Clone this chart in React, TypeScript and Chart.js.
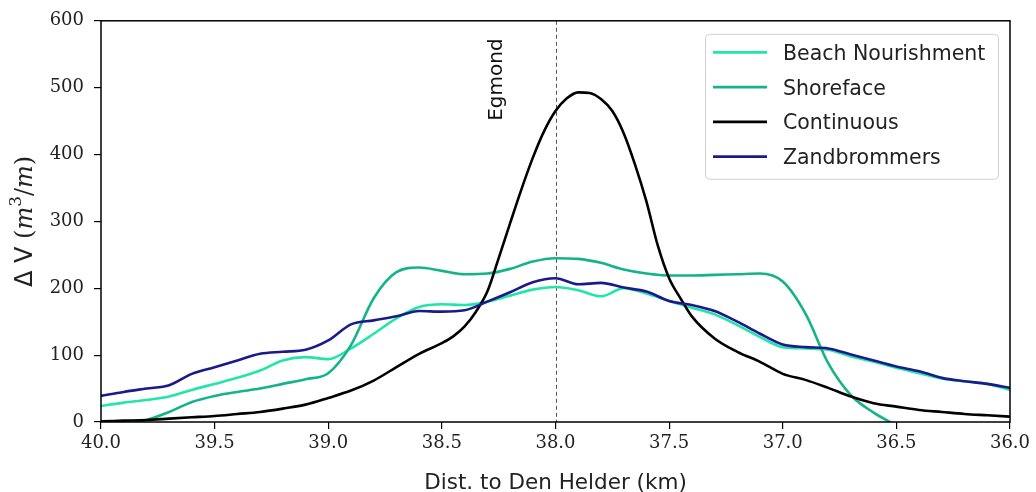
import { useEffect, useRef } from 'react';
import { Chart, registerables } from 'chart.js';

Chart.register(...registerables);

// Distance to Den Helder (km), shared grid
const distanceKm = [
  40.0, 39.9, 39.8, 39.7, 39.6, 39.5, 39.4, 39.3, 39.2, 39.1,
  39.0, 38.9, 38.8, 38.7, 38.6, 38.5, 38.4, 38.3, 38.2, 38.1,
  38.0, 37.9, 37.8, 37.7, 37.6, 37.5, 37.4, 37.3, 37.2, 37.1,
  37.0, 36.9, 36.8, 36.7, 36.6, 36.5, 36.4, 36.3, 36.2, 36.1, 36.0,
];

const beachNourishment = [
  24, 29, 33, 38, 48, 57, 66, 77, 92, 97,
  94, 110, 132, 155, 172, 176, 175, 180, 189, 198,
  202, 197, 188, 200, 192, 181, 171, 161, 145, 127,
  112, 110, 108, 98, 90, 81, 73, 65, 61, 57, 48,
];

const shoreface = [
  -12, -5, 3, 15, 30, 39, 45, 50, 57, 64,
  73, 115, 185, 224, 231, 226, 221, 222, 229, 240,
  245, 244, 238, 228, 222, 219, 219, 220, 221, 222,
  210, 162, 88, 40, 14, -5, null, null, null, null, null,
];

const zandbrommers = [
  39, 45, 50, 55, 72, 82, 92, 102, 105, 108,
  122, 146, 152, 158, 166, 165, 167, 180, 194, 209,
  215, 206, 208, 201, 195, 181, 175, 166, 150, 132,
  116, 112, 110, 101, 92, 83, 76, 66, 61, 57, 51,
];

// Continuous series, sampled finer around the peak
const continuousKm = [
  40.0, 39.9, 39.8, 39.7, 39.6, 39.5, 39.4, 39.3, 39.2, 39.1,
  39.0, 38.9, 38.8, 38.7, 38.6, 38.5, 38.45, 38.4, 38.35, 38.3,
  38.25, 38.2, 38.15, 38.1, 38.05, 38.0, 37.95, 37.9, 37.85, 37.8,
  37.75, 37.7, 37.65, 37.6, 37.55, 37.5, 37.45, 37.4, 37.3, 37.2,
  37.1, 37.0, 36.9, 36.8, 36.7, 36.6, 36.5, 36.4, 36.3, 36.2, 36.1, 36.0,
];

const continuous = [
  1, 2, 3, 5, 7, 9, 12, 15, 20, 26,
  36, 47, 62, 82, 102, 118, 128, 143, 165, 195,
  245, 297, 348, 395, 435, 465, 484, 493, 492, 483,
  465, 432, 385, 330, 264, 215, 185, 158, 125, 105,
  90, 72, 63, 51, 38, 28, 23, 18, 15, 12, 10, 8,
];

const xTicksMin = 36;
const xTicksMax = 40;
const yTicksMin = 0;
const yTicksMax = 600;

const seriesNames = ['Beach Nourishment', 'Shoreface', 'Continuous', 'Zandbrommers'];
const seriesColors = ['#22e6a8', '#14b38c', '#000000', '#1a1a8c'];
const markerKm = 38.0;
const markerLabel = 'Egmond';
const markerLabelKm = 38.26;
const xTitle = 'Dist. to Den Helder (km)';

const SANS = '"DejaVu Sans", sans-serif';
const SERIF = '"DejaVu Serif", serif';

function toPoints(xs: number[], ys: (number | null)[]) {
  return xs.map((x, i) => ({ x, y: ys[i] }));
}

const decorPlugin = {
  id: 'decor',
  beforeDatasetsDraw(chart: any) {
    const { ctx, chartArea, scales } = chart;
    const px = scales.x.getPixelForValue(markerKm);
    ctx.save();
    ctx.strokeStyle = '#555';
    ctx.lineWidth = 1;
    ctx.setLineDash([4, 3]);
    ctx.beginPath();
    ctx.moveTo(Math.round(px) + 0.5, chartArea.top);
    ctx.lineTo(Math.round(px) + 0.5, chartArea.bottom);
    ctx.stroke();
    ctx.restore();

    // Egmond label
    const lx = scales.x.getPixelForValue(markerLabelKm);
    ctx.save();
    ctx.translate(lx + 6, chartArea.top + 100);
    ctx.rotate(-Math.PI / 2);
    ctx.fillStyle = '#111';
    ctx.font = `20px ${SANS}`;
    ctx.textAlign = 'left';
    ctx.textBaseline = 'alphabetic';
    ctx.fillText(markerLabel, 0, 0);
    ctx.restore();
  },
  afterDatasetsDraw(chart: any) {
    const { ctx, chartArea } = chart;
    ctx.save();
    ctx.strokeStyle = '#000';
    ctx.lineWidth = 1.5;
    ctx.strokeRect(chartArea.left, chartArea.top, chartArea.right - chartArea.left, chartArea.bottom - chartArea.top);
    ctx.restore();
  },
  afterDraw(chart: any) {
    const { ctx, chartArea } = chart;
    // Legend
    const bx = chartArea.right - 305;
    const by = chartArea.top + 13;
    ctx.save();
    ctx.fillStyle = 'rgba(255,255,255,0.85)';
    ctx.strokeStyle = '#d0d0d0';
    ctx.lineWidth = 1;
    ctx.beginPath();
    (ctx as any).roundRect(bx + 0.5, by + 0.5, 293, 145, 4);
    ctx.fill();
    ctx.stroke();
    chart.data.datasets.forEach((ds: any, i: number) => {
      const ry = by + 18.5 + i * 34.8;
      ctx.strokeStyle = ds.borderColor;
      ctx.lineWidth = 2.8;
      ctx.beginPath();
      ctx.moveTo(bx + 8, ry);
      ctx.lineTo(bx + 62, ry);
      ctx.stroke();
      ctx.fillStyle = '#222';
      ctx.font = `20.5px ${SANS}`;
      ctx.textBaseline = 'alphabetic';
      ctx.textAlign = 'left';
      ctx.fillText(ds.label, bx + 78, ry + 7.5);
    });
    ctx.restore();

    // X title
    ctx.save();
    ctx.fillStyle = '#222';
    ctx.font = `21.5px ${SANS}`;
    ctx.textAlign = 'center';
    ctx.textBaseline = 'alphabetic';
    ctx.fillText(xTitle, (chartArea.left + chartArea.right) / 2, 489);
    ctx.restore();

    // Y title: Δ V (m^3/m)
    ctx.save();
    ctx.translate(31.5, (chartArea.top + chartArea.bottom) / 2);
    ctx.rotate(-Math.PI / 2);
    ctx.fillStyle = '#222';
    ctx.textBaseline = 'alphabetic';
    ctx.textAlign = 'left';
    const size = 24;
    const runs: { t: string; f: string; dy: number }[] = [
      { t: 'Δ V ', f: `${size}px ${SANS}`, dy: 0 },
      { t: '(', f: `${size}px ${SERIF}`, dy: 0 },
      { t: 'm', f: `italic ${size}px ${SERIF}`, dy: 0 },
      { t: '3', f: `${Math.round(size * 0.7)}px ${SERIF}`, dy: -size * 0.42 },
      { t: '/', f: `${size}px ${SERIF}`, dy: 0 },
      { t: 'm', f: `italic ${size}px ${SERIF}`, dy: 0 },
      { t: ')', f: `${size}px ${SERIF}`, dy: 0 },
    ];
    let total = 0;
    const widths = runs.map((r) => {
      ctx.font = r.f;
      const w = ctx.measureText(r.t).width;
      total += w;
      return w;
    });
    let cx = -total / 2;
    runs.forEach((r, i) => {
      ctx.font = r.f;
      ctx.fillText(r.t, cx, r.dy);
      cx += widths[i];
    });
    ctx.restore();
  },
};

export default function App() {
  const ref = useRef<HTMLCanvasElement | null>(null);

  useEffect(() => {
    if (!ref.current) return;
    const seriesData = [
      toPoints(distanceKm, beachNourishment),
      toPoints(distanceKm, shoreface),
      toPoints(continuousKm, continuous),
      toPoints(distanceKm, zandbrommers),
    ];
    const chart = new Chart(ref.current, {
      type: 'line',
      data: {
        datasets: seriesNames.map((name, i) => ({
          label: name,
          data: seriesData[i],
          borderColor: seriesColors[i],
          backgroundColor: seriesColors[i],
          borderWidth: 2.6,
          pointRadius: 0,
          cubicInterpolationMode: 'monotone',
          spanGaps: false,
          order: 3 - i,
        })),
      },
      options: {
        animation: false,
        responsive: true,
        maintainAspectRatio: false,
        layout: { padding: { top: 20, right: 26, left: 0, bottom: 0 } },
        plugins: {
          legend: { display: false },
          tooltip: { enabled: false },
        },
        scales: {
          x: {
            type: 'linear',
            reverse: true,
            min: xTicksMin,
            max: xTicksMax,
            grid: { display: true, drawOnChartArea: false, drawTicks: true, tickLength: 7, color: '#000', lineWidth: 1.2 },
            border: { display: false },
            ticks: {
              stepSize: 0.5,
              autoSkip: false,
              maxRotation: 0,
              padding: 4,
              color: '#222',
              font: { family: SERIF, size: 18 },
              callback: (v: any) => Number(v).toFixed(1),
            },
            afterFit: (scale: any) => {
              scale.height = 70;
            },
          },
          y: {
            type: 'linear',
            min: yTicksMin,
            max: yTicksMax,
            grid: { display: true, drawOnChartArea: false, drawTicks: true, tickLength: 7, color: '#000', lineWidth: 1.2 },
            border: { display: false },
            ticks: {
              stepSize: 100,
              padding: 10,
              color: '#222',
              font: { family: SERIF, size: 18 },
            },
            afterFit: (scale: any) => {
              scale.width = 101;
            },
          },
        },
      } as any,
      plugins: [decorPlugin],
    });
    return () => chart.destroy();
  }, []);

  return (
    <div style={{ position: 'fixed', left: 0, top: 0, width: 1036, height: 492, background: '#fff' }}>
      <canvas ref={ref} />
    </div>
  );
}
